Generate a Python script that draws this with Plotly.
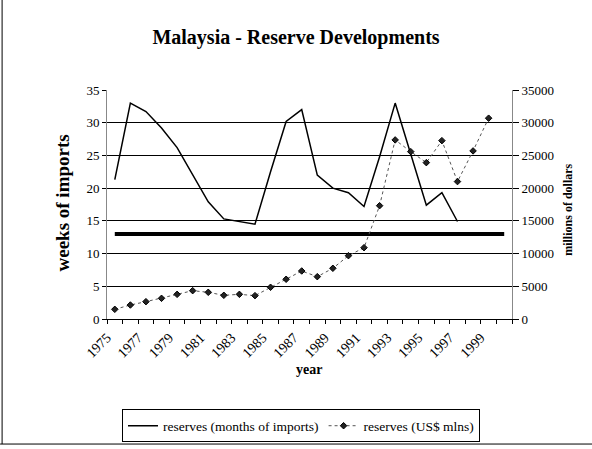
import plotly.graph_objects as go

years = list(range(1975, 2000))
months_years = list(range(1975, 1998))
weeks_of_imports = [21.3, 33.0, 31.7, 29.2, 26.2, 22.0, 17.9, 15.3, 14.9, 14.5,
                    22.5, 30.2, 32.0, 22.0, 20.0, 19.3, 17.2, 24.8, 33.0, 25.2,
                    17.4, 19.3, 14.9]
reserves_usd = [1480, 2140, 2650, 3160, 3770, 4330, 4080, 3620, 3770, 3570,
                4850, 6070, 7340, 6470, 7750, 9680, 10900, 17320, 27370, 25580,
                23900, 27260, 21000, 25690, 30690]
benchmark_years = list(range(1975, 2001))
benchmark = [13] * len(benchmark_years)
label_years = list(range(1975, 2000, 2))

# category boundaries, labels sit on the boundary left of their year
bounds = [y - 0.5 for y in range(1975, 2002)]
bound_text = [str(int(b + 0.5)) if int(b + 0.5) in label_years else '' for b in bounds]

serif = 'Liberation Serif'

fig = go.Figure()
fig.add_trace(go.Scatter(
    x = benchmark_years, y = benchmark,
    mode = 'lines', line = dict(color = 'black', width = 4),
    showlegend = False, hoverinfo = 'skip'
))
fig.add_trace(go.Scatter(
    x = months_years, y = weeks_of_imports,
    mode = 'lines', name = 'reserves (months of imports)',
    line = dict(color = 'black', width = 1.5)
))
fig.add_trace(go.Scatter(
    x = years, y = reserves_usd, yaxis = 'y2',
    mode = 'lines+markers', name = 'reserves (US$ mlns)',
    line = dict(color = '#555555', width = 1, dash = 'dot'),
    marker = dict(symbol = 'diamond', size = 5, color = '#222222',
                  line = dict(color = 'black', width = 1))
))

fig.update_layout(
    width = 592,
    height = 449,
    margin = dict(l = 107, r = 80, t = 90, b = 130, autoexpand = False),
    paper_bgcolor = 'white',
    plot_bgcolor = 'white',
    font = dict(family = serif, color = 'black', size = 13),
    title = dict(
        text = '<b>Malaysia - Reserve Developments</b>',
        x = 0.5, xanchor = 'center', y = 1 - 37 / 449, yanchor = 'middle',
        font = dict(family = serif, size = 20, color = 'black')
    ),
    xaxis = dict(
        range = [1974.5, 2000.5],
        tickmode = 'array',
        tickvals = bounds,
        ticktext = bound_text,
        tickangle = -45,
        ticks = 'outside',
        ticklen = 4,
        tickcolor = 'black',
        tickfont = dict(size = 14),
        showgrid = False,
        showline = True,
        linecolor = 'black',
        linewidth = 1,
        zeroline = False
    ),
    yaxis = dict(
        range = [0, 35],
        dtick = 5,
        showgrid = True,
        gridcolor = 'black',
        gridwidth = 1,
        showline = True,
        linecolor = '#888888',
        ticks = 'outside',
        ticklen = 4,
        tickcolor = 'black',
        zeroline = False
    ),
    yaxis2 = dict(
        range = [0, 35000],
        dtick = 5000,
        tickformat = 'd',
        overlaying = 'y',
        side = 'right',
        showgrid = False,
        showline = True,
        linecolor = '#888888',
        ticks = 'outside',
        ticklen = 6,
        tickcolor = 'black',
        zeroline = False
    ),
    legend = dict(
        orientation = 'h',
        x = 0.479, xanchor = 'center',
        y = -0.467, yanchor = 'middle',
        bordercolor = 'black', borderwidth = 1,
        font = dict(size = 13.5),
        itemwidth = 30,
        tracegroupgap = 0
    ),
    annotations = [
        dict(text = '<b>weeks of imports</b>', xref = 'paper', yref = 'paper',
             x = -0.141, y = 0.506, textangle = -90, showarrow = False,
             font = dict(size = 19)),
        dict(text = '<b>millions of dollars</b>', xref = 'paper', yref = 'paper',
             x = 1.160, y = 0.476, textangle = -90, showarrow = False,
             font = dict(size = 12)),
        dict(text = '<b>year</b>', xref = 'paper', yref = 'paper',
             x = 0.499, y = -0.262, showarrow = False,
             font = dict(size = 14))
    ],
    shapes = [
        dict(type = 'line', xref = 'paper', yref = 'paper',
             x0 = -0.259, x1 = -0.259, y0 = 1.393, y1 = -0.546,
             line = dict(color = 'black', width = 1)),
        dict(type = 'line', xref = 'paper', yref = 'paper',
             x0 = -0.264, x1 = 1.198, y0 = -0.546, y1 = -0.546,
             line = dict(color = 'black', width = 1))
    ]
)

# drop the page's default body margin so the figure sits at the window corner
fig.write_html(
    "out.html",
    config = {'displayModeBar': False},
    post_script = "document.body.style.margin = '0';"
)
